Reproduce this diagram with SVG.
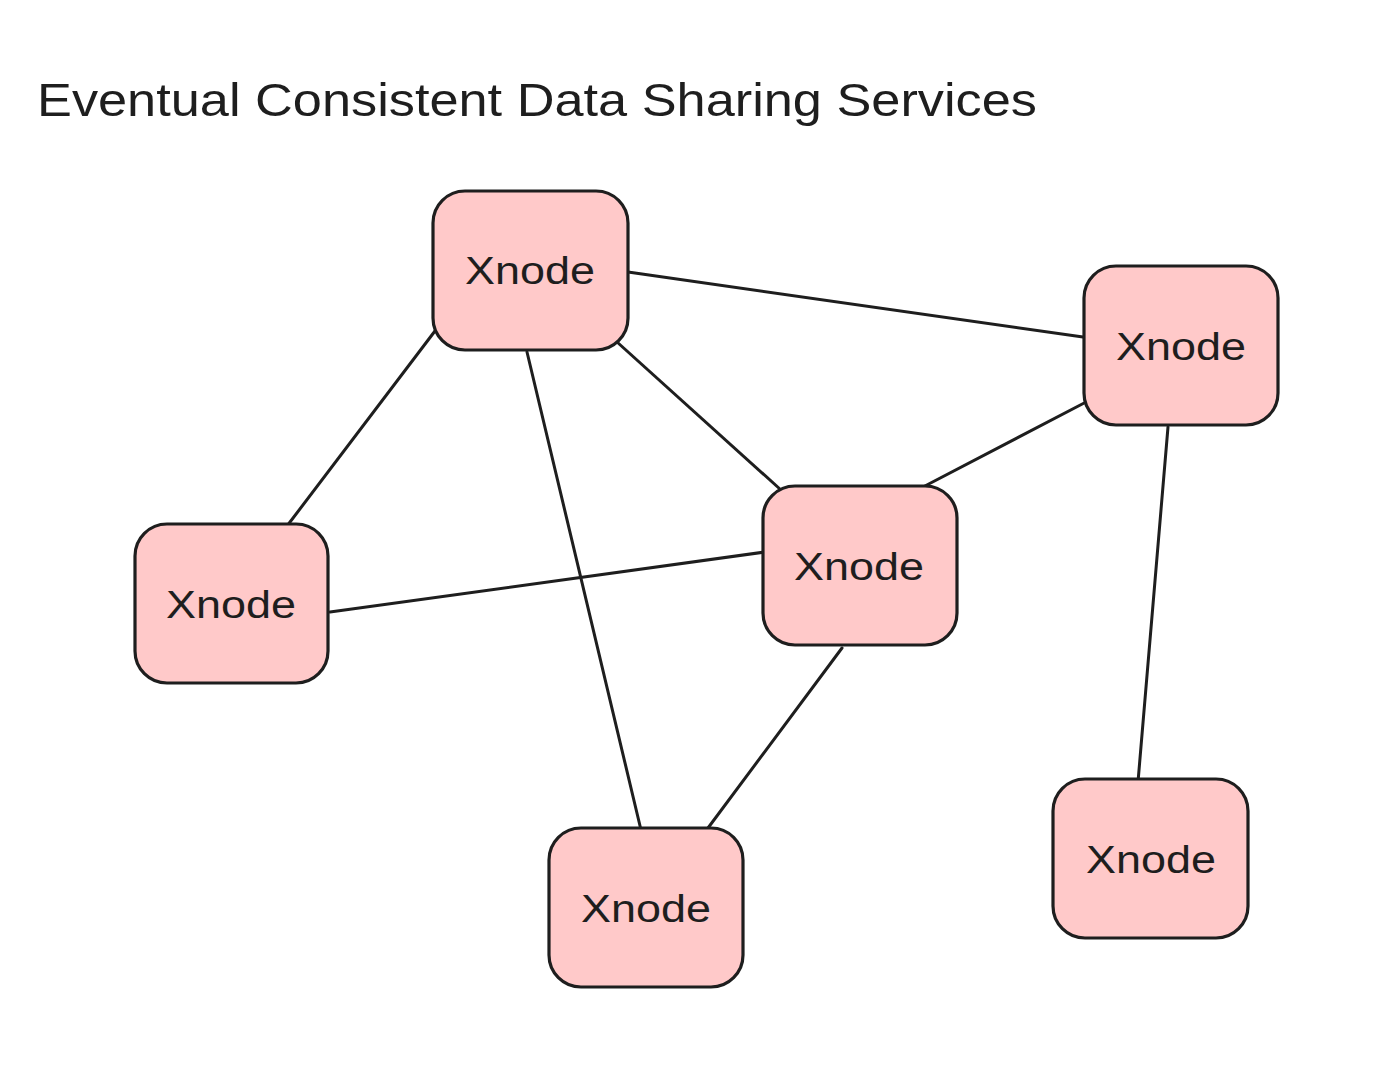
<svg xmlns="http://www.w3.org/2000/svg" width="1398" height="1066" viewBox="0 0 1398 1066">
<style>
.node rect{fill:#ffc9c9;stroke:#1e1e1e;stroke-width:3.2}
.node text{font-family:"Liberation Sans",Arial,sans-serif;font-size:38px;fill:#1e1e1e;text-anchor:middle}
.edges line{stroke:#1e1e1e;stroke-width:3;stroke-linecap:round}
.title{font-family:"Liberation Sans",Arial,sans-serif;font-size:46px;fill:#1e1e1e}
</style>
<rect width="1398" height="1066" fill="#ffffff"/>
<text class="title" x="37" y="116" textLength="1000" lengthAdjust="spacingAndGlyphs">Eventual Consistent Data Sharing Services</text>
<g class="edges" id="connectors">
<line x1="628" y1="272" x2="1083" y2="337"/>
<line x1="438" y1="327" x2="287" y2="526" stroke-width="2.5"/>
<line x1="527" y1="352" x2="641" y2="830" stroke-width="2.8"/>
<line x1="617" y1="342" x2="781" y2="490"/>
<line x1="1088" y1="401" x2="923" y2="487" stroke-width="3.2"/>
<line x1="1168" y1="427" x2="1138" y2="782"/>
<line x1="330" y1="612" x2="765" y2="552" stroke-width="3.4"/>
<line x1="842" y1="648" x2="705" y2="832"/>
</g>
<g class="node" id="node-top"><rect x="433" y="191" width="195" height="159" rx="32"/><text x="530" y="284" textLength="130" lengthAdjust="spacingAndGlyphs">Xnode</text></g>
<g class="node" id="node-right"><rect x="1084" y="266" width="194" height="159" rx="32"/><text x="1181" y="360" textLength="130" lengthAdjust="spacingAndGlyphs">Xnode</text></g>
<g class="node" id="node-center"><rect x="763" y="486" width="194" height="159" rx="32"/><text x="859" y="580" textLength="130" lengthAdjust="spacingAndGlyphs">Xnode</text></g>
<g class="node" id="node-left"><rect x="135" y="524" width="193" height="159" rx="32"/><text x="231" y="618" textLength="130" lengthAdjust="spacingAndGlyphs">Xnode</text></g>
<g class="node" id="node-bottom"><rect x="549" y="828" width="194" height="159" rx="32"/><text x="646" y="922" textLength="130" lengthAdjust="spacingAndGlyphs">Xnode</text></g>
<g class="node" id="node-bottom-right"><rect x="1053" y="779" width="195" height="159" rx="32"/><text x="1151" y="873" textLength="130" lengthAdjust="spacingAndGlyphs">Xnode</text></g>
</svg>
